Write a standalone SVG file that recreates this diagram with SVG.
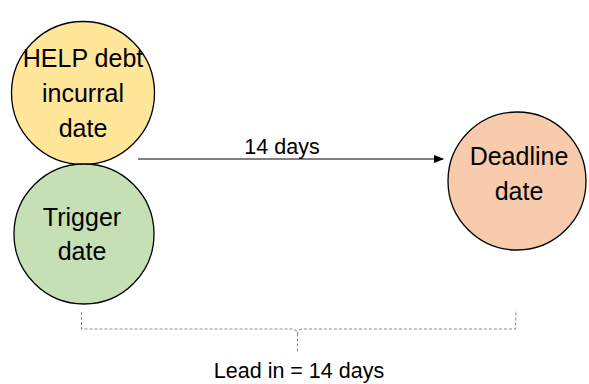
<svg xmlns="http://www.w3.org/2000/svg" width="589" height="384" viewBox="0 0 589 384">
<style>
.node{stroke:#000;stroke-width:1.3}
.lbl{font-family:"Liberation Sans",Arial,sans-serif;font-size:25px;fill:#000;text-anchor:middle}
.small{font-family:"Liberation Sans",Arial,sans-serif;font-size:21.5px;fill:#000;text-anchor:middle}
.brace{fill:none;stroke:#8c8c8c;stroke-width:1.1;stroke-dasharray:3 2}
</style>
<defs>
<marker id="arr" markerWidth="10" markerHeight="8" refX="9" refY="4" orient="auto" markerUnits="userSpaceOnUse">
<path d="M0,0 L10,4 L0,8 Z" fill="#000"/>
</marker>
</defs>
<rect width="589" height="384" fill="#fff"/>
<g id="help">
<circle class="node" cx="83" cy="93" r="71.5" fill="#FFE699"/>
<text class="lbl" x="83" y="67">HELP debt</text>
<text class="lbl" x="83" y="102">incurral</text>
<text class="lbl" x="83" y="137">date</text>
</g>
<g id="trigger">
<circle class="node" cx="84" cy="234" r="70" fill="#C5E0B4"/>
<text class="lbl" x="82" y="226">Trigger</text>
<text class="lbl" x="82" y="260">date</text>
</g>
<g id="deadline">
<circle class="node" cx="517" cy="181" r="69" fill="#F8CBAD"/>
<text class="lbl" x="519" y="165">Deadline</text>
<text class="lbl" x="519" y="200">date</text>
</g>
<g id="connectors">
<line x1="138" y1="159" x2="443" y2="159" stroke="#000" stroke-width="1" marker-end="url(#arr)"/>
<text class="small" x="282" y="154">14 days</text>
<path class="brace" d="M81.5,312 L81.5,329 L293,329 Q297.5,330 297.5,335 L297.5,352 M297.5,335 Q297.5,330 302,329 L515.5,329 L516,310"/>
<text class="small" x="299" y="378">Lead in = 14 days</text>
</g>
</svg>
